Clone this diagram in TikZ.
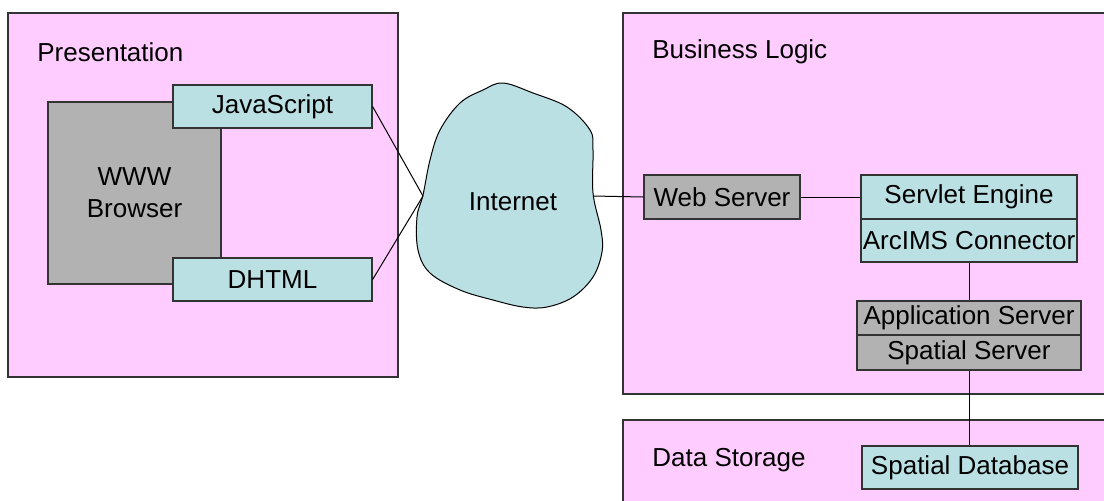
\documentclass[tikz,border=0pt]{standalone}
\usepackage{fontspec}
\setmainfont{Liberation Sans}
\usetikzlibrary{calc}

\definecolor{tierpink}{HTML}{FFCCFF}
\definecolor{partcyan}{HTML}{BBE0E3}
\definecolor{partgray}{HTML}{B2B2B2}
\definecolor{edgegray}{HTML}{333333}

\def \px {0.5pt}

\tikzset{
	tier/.style={draw=edgegray, fill=tierpink, line width=0.6pt},
	tierlabel/.style={anchor=west, inner sep=0pt},
	part/.style={draw=edgegray, rectangle, line width=0.6pt, inner sep=0pt,
		align=center},
	cyanpart/.style={part, fill=partcyan},
	graypart/.style={part, fill=partgray},
	link/.style={draw=black, line width=0.5pt}
}

\begin{document}
\begin{tikzpicture}[x=0.5pt, y=-0.5pt, font=\fontsize{13}{16}\selectfont]
	\path[use as bounding box] (0,0) rectangle (1104,500);
	\fill[white] (0,0) rectangle (1104,500);

	% tiers
	\draw[tier] (8,13) rectangle (398,377);
	\draw[tier] (623,13) rectangle (1120,394);
	\draw[tier] (623,420) rectangle (1120,530);
	\node[tierlabel] (presentation) at (37,52) {Presentation};
	\node[tierlabel] (business)     at (652,52) {Business Logic};
	\node[tierlabel] (storage)      at (652,460) {Data Storage};

	% presentation
	\node[graypart, minimum width=173*\px, minimum height=182*\px] (browser)
		at (134.5,193) {WWW\\Browser};
	\node[cyanpart, minimum width=199*\px, minimum height=43*\px] (javascript)
		at (272.5,106.5) {JavaScript};
	\node[cyanpart, minimum width=199*\px, minimum height=43*\px] (dhtml)
		at (272.5,279.5) {DHTML};

	% internet cloud
	\draw[draw=black, fill=partcyan, line width=0.5pt] plot[smooth cycle, tension=0.6]
		coordinates {(503,83) (533,93) (567,107) (590,130) (593,150) (593,193)
		(601,230) (602,252) (593,277) (573,297) (547,307) (523,307) (493,300)
		(460,290) (430,273) (418,250) (417,217) (423,195) (430,160) (440,130)
		(460,103) (483,90)};
	\node (internet) at (513,202) {Internet};
	\coordinate (cloudwest) at (423,196);
	\coordinate (cloudeast) at (593,196);

	% business logic
	\node[graypart, minimum width=156*\px, minimum height=44*\px] (webserver)
		at (722,197) {Web Server};
	\node[cyanpart, minimum width=216*\px, minimum height=44*\px] (servlet)
		at (969,197) {Servlet Engine};
	\node[cyanpart, minimum width=216*\px, minimum height=43*\px] (arcims)
		at (969,240.5) {ArcIMS Connector};
	\node[graypart, minimum width=224*\px, minimum height=34*\px] (appserver)
		at (969,318) {Application Server};
	\node[graypart, minimum width=224*\px, minimum height=35*\px] (spatialserver)
		at (969,352.5) {Spatial Server};

	% data storage
	\node[cyanpart, minimum width=216*\px, minimum height=43*\px] (spatialdb)
		at (970,467.5) {Spatial Database};

	% connections
	\draw[link] (javascript.east) -- (cloudwest);
	\draw[link] (dhtml.east) -- (cloudwest);
	\draw[link] (cloudeast) -- (webserver.west);
	\draw[link] (webserver.east) -- (servlet.west);
	\draw[link] (arcims.south) -- (appserver.north);
	\draw[link] (spatialserver.south) -- (spatialserver.south |- spatialdb.north);
\end{tikzpicture}
\end{document}
